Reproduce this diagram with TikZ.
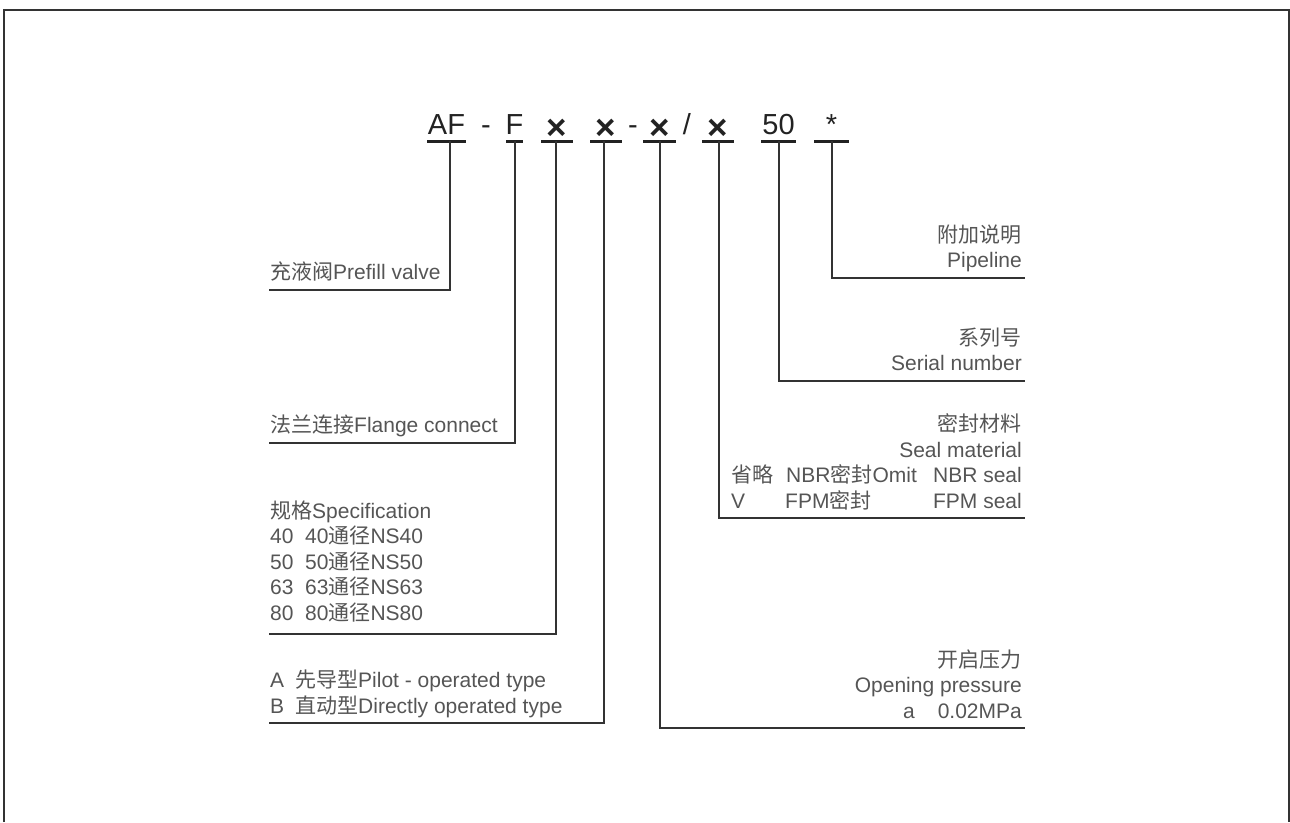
\documentclass[tikz,border=0pt]{standalone}
\usepackage{fontspec}
\setmainfont{Liberation Sans}
\newfontfamily\cjk{Noto Sans CJK SC}
\definecolor{labc}{HTML}{555555}
\definecolor{ttlc}{HTML}{222222}
\definecolor{linec}{HTML}{333333}
\begin{document}
\begin{tikzpicture}[x=1pt,y=-1pt,
  lab/.style={inner sep=0pt, text=labc, font=\fontsize{21}{25}\selectfont},
  labl/.style={lab, anchor=base west},
  labr/.style={lab, anchor=base east},
  ttl/.style={inner sep=0pt, text=ttlc, font=\fontsize{29}{34}\selectfont, anchor=base},
  crs/.style={inner sep=0pt, text=ttlc, font=\fontsize{35}{38}\selectfont\bfseries, anchor=center},
  uline/.style={draw=ttlc, line width=3pt},
  lead/.style={draw=linec, line width=1.4pt},
  frame/.style={draw=linec, line width=2pt}]
\useasboundingbox (0,0) rectangle (1290,822);
% frame
\draw[frame] (4,822) -- (4,10) -- (1288.5,10) -- (1288.5,822);
% title
\node[ttl] (tAF) at (446.5,134) {AF};
\node[ttl] (tD1) at (486,134) {-};
\node[ttl] (tF) at (514.5,134) {F};
\node[crs] (tX1) at (557,129.5) {×};
\node[crs] (tX2) at (606,129.5) {×};
\node[ttl] (tD2) at (633,134) {-};
\node[crs] (tX3) at (659.5,129.5) {×};
\node[ttl] (tSl) at (687,134) {/};
\node[crs] (tX4) at (718,129.5) {×};
\node[ttl] (t50) at (778.5,134) {50};
\node[ttl] (tSt) at (831.5,134) {*};
% underlines
\draw[uline] (427,141) -- (466,141);
\draw[uline] (506,141) -- (523,141);
\draw[uline] (541,141) -- (573,141);
\draw[uline] (590,141) -- (622,141);
\draw[uline] (643,141) -- (676,141);
\draw[uline] (702,141) -- (734,141);
\draw[uline] (761,141) -- (796,141);
\draw[uline] (814,141) -- (849,141);
% tick coordinates
\coordinate (uAF) at (450,141);
\coordinate (uF) at (515,141);
\coordinate (uX1) at (556,141);
\coordinate (uX2) at (604,141);
\coordinate (uX3) at (660,141);
\coordinate (uX4) at (719,141);
\coordinate (u50) at (779,141);
\coordinate (uSt) at (832,141);
% line ends
\coordinate (ePre) at (269,290);
\coordinate (eFla) at (269,443);
\coordinate (eSpe) at (269,634);
\coordinate (eAB) at (269,723);
\coordinate (eOpe) at (1025,728);
\coordinate (eSea) at (1025,518);
\coordinate (eSer) at (1025,381);
\coordinate (ePip) at (1025,278);
% connectors
\draw[lead] (uAF) |- (ePre);
\draw[lead] (uF) |- (eFla);
\draw[lead] (uX1) |- (eSpe);
\draw[lead] (uX2) |- (eAB);
\draw[lead] (uX3) |- (eOpe);
\draw[lead] (uX4) |- (eSea);
\draw[lead] (u50) |- (eSer);
\draw[lead] (uSt) |- (ePip);
% left labels
\node[labl] (lPre) at (270,279) {{\cjk 充液阀}Prefill valve};
\node[labl] (lFla) at (270,432) {{\cjk 法兰连接}Flange connect};
\node[labl] (lSpe0) at (270,518) {{\cjk 规格}Specification};
\node[labl] (lSpe1a) at (270,543.5) {40};
\node[labl] (lSpe1b) at (305,543.5) {40{\cjk 通径}NS40};
\node[labl] (lSpe2a) at (270,569) {50};
\node[labl] (lSpe2b) at (305,569) {50{\cjk 通径}NS50};
\node[labl] (lSpe3a) at (270,594.5) {63};
\node[labl] (lSpe3b) at (305,594.5) {63{\cjk 通径}NS63};
\node[labl] (lSpe4a) at (270,620) {80};
\node[labl] (lSpe4b) at (305,620) {80{\cjk 通径}NS80};
\node[labl] (lAa) at (270,687.5) {A};
\node[labl] (lAb) at (295,687.5) {{\cjk 先导型}Pilot - operated type};
\node[labl] (lBa) at (270,713) {B};
\node[labl] (lBb) at (295,713) {{\cjk 直动型}Directly operated type};
% right labels
\node[labr] (rPip1) at (1022,242) {\cjk 附加说明};
\node[labr] (rPip2) at (1022,267.5) {Pipeline};
\node[labr] (rSer1) at (1022,345) {\cjk 系列号};
\node[labr] (rSer2) at (1022,370.5) {Serial number};
\node[labr] (rSea1) at (1022,431.5) {\cjk 密封材料};
\node[labr] (rSea2) at (1022,457) {Seal material};
\node[labl] (rSea3a) at (731,482.5) {\cjk 省略};
\node[labl] (rSea3b) at (786,482.5) {NBR{\cjk 密封}Omit};
\node[labr] (rSea3c) at (1022,482.5) {NBR seal};
\node[labl] (rSea4a) at (731,508) {V};
\node[labl] (rSea4b) at (785,508) {FPM{\cjk 密封}};
\node[labr] (rSea4c) at (1022,508) {FPM seal};
\node[labr] (rOpe1) at (1022,667) {\cjk 开启压力};
\node[labr] (rOpe2) at (1022,692.5) {Opening pressure};
\node[labl] (rOpe3a) at (903,718) {a};
\node[labr] (rOpe3b) at (1022,718) {0.02MPa};
\end{tikzpicture}
\end{document}
